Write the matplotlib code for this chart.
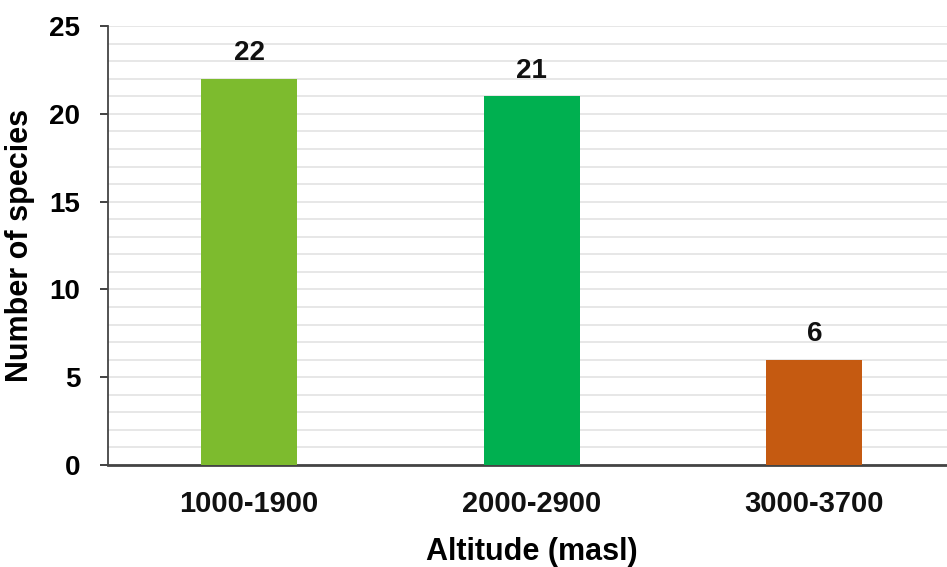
import matplotlib.pyplot as plt
from matplotlib.ticker import MultipleLocator

plt.rcParams['font.family'] = ['Liberation Sans', 'DejaVu Sans']
plt.rcParams['font.weight'] = 'bold'

# data
categories = ['1000-1900', '2000-2900', '3000-3700']
species = [22, 21, 6]
colors = ['#7DBB2E', '#00B050', '#C55A11']

fig = plt.figure(figsize=(9.47, 5.67), dpi=100)
ax = fig.add_axes([0.114, 0.18, 0.895, 0.774])

x = range(len(categories))
bars = ax.bar(x, species, width=0.34, color=colors, zorder=3)

for b, v in zip(bars, species):
    ax.text(b.get_x() + b.get_width() / 2, v + 0.7, str(v),
            ha='center', va='bottom', fontsize=20, fontweight='bold', color='#111111')

ax.set_xlim(-0.5, 2.5)
ax.set_ylim(0, 25)
ax.yaxis.set_major_locator(MultipleLocator(5))
ax.yaxis.set_minor_locator(MultipleLocator(1))
ax.grid(axis='y', which='both', color='#E3E3E3', linewidth=1.2, zorder=0)
ax.tick_params(axis='y', which='minor', length=0)
ax.tick_params(axis='y', which='major', length=6, width=1.3, color='#333333',
               labelsize=20, pad=14)
ax.tick_params(axis='x', length=0, labelsize=21, pad=18)

ax.set_xticks(list(x))
ax.set_xticklabels(categories, fontweight='bold', color='#111111')
for lab in ax.get_yticklabels():
    lab.set_fontweight('bold')

for s in ['top', 'right']:
    ax.spines[s].set_visible(False)
ax.spines['left'].set_color('#444444')
ax.spines['left'].set_linewidth(1.3)
ax.spines['bottom'].set_color('#444444')
ax.spines['bottom'].set_linewidth(2)

ax.set_xlabel('Altitude (masl)', fontsize=22, fontweight='bold', labelpad=14)
ax.set_ylabel('Number of species', fontsize=22, fontweight='bold', labelpad=10)

fig.savefig('out.png', dpi=100)
